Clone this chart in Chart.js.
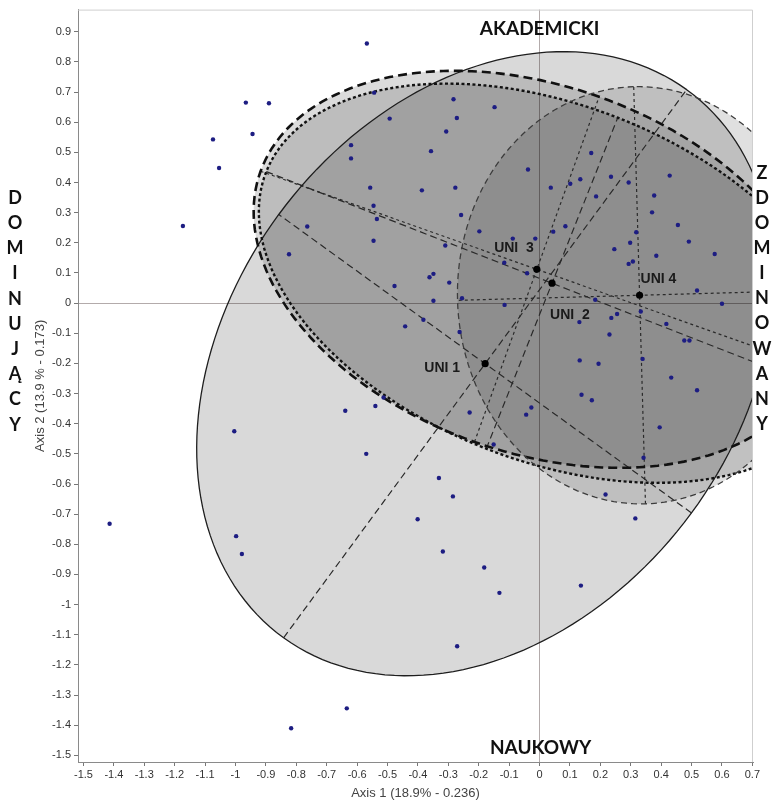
<!DOCTYPE html>
<html>
<head>
<meta charset="utf-8">
<script src="https://cdn.jsdelivr.net/npm/chart.js@4.4.1/dist/chart.umd.min.js"></script>
<style>
html, body { margin: 0; padding: 0; background: #fff; }
#wrap { width: 774px; height: 801px; position: relative; }
</style>
</head>
<body>
<div id="wrap"><canvas id="chart"></canvas></div>
<script>
// individual observations (axis 1, axis 2)
const POINTS_X = [
	-0.568, -0.544, -0.966, -0.890, -0.493, -1.074, -0.944, -1.054, -0.620, -0.620,
	-0.557, -0.546, -0.535, -0.546, -1.173, -0.764, -0.824, -0.477, -0.283, -0.148,
	-0.272, -0.307, -0.357, -0.038, 0.170, 0.428, -0.387, -0.277, 0.037, 0.101,
	0.134, 0.235, 0.293, 0.186, 0.377, 0.370, -0.258, -0.198, -0.310, -0.088,
	-0.014, 0.045, 0.085, 0.318, 0.298, 0.246, 0.455, 0.491, 0.576, 0.384,
	0.293, 0.307, -0.362, -0.349, -0.297, -0.116, -0.041, -0.349, -0.255, 0.518,
	0.183, -0.115, 0.600, 0.333, -0.442, -0.382, -0.263, 0.131, 0.236, 0.255,
	0.230, 0.417, 0.476, 0.493, 0.339, 0.132, 0.194, 0.433, 0.518, 0.138,
	0.172, -0.230, -0.027, -0.044, 0.395, -0.151, 0.342, -0.331, -0.285, 0.217,
	-0.401, 0.315, -0.639, -0.540, -0.513, -1.004, -0.570, -1.414, -0.998, -0.979,
	-0.634, -0.817, -0.318, -0.182, -0.132, 0.136, -0.271
];
const POINTS_Y = [
	0.861, 0.698, 0.665, 0.663, 0.612, 0.543, 0.561, 0.448, 0.524, 0.480,
	0.383, 0.323, 0.279, 0.207, 0.256, 0.254, 0.162, 0.057, 0.676, 0.650,
	0.614, 0.569, 0.504, 0.443, 0.498, 0.423, 0.374, 0.383, 0.383, 0.396,
	0.411, 0.419, 0.400, 0.354, 0.357, 0.301, 0.292, 0.238, 0.191, 0.214,
	0.214, 0.237, 0.255, 0.235, 0.200, 0.179, 0.259, 0.204, 0.163, 0.157,
	0.130, 0.138, 0.086, 0.097, 0.068, 0.134, 0.099, 0.008, 0.016, 0.042,
	0.011, -0.006, -0.002, -0.028, -0.077, -0.055, -0.096, -0.063, -0.049, -0.036,
	-0.104, -0.069, -0.124, -0.124, -0.185, -0.190, -0.201, -0.247, -0.289, -0.304,
	-0.322, -0.363, -0.346, -0.370, -0.412, -0.469, -0.513, -0.580, -0.641, -0.635,
	-0.717, -0.714, -0.357, -0.341, -0.313, -0.425, -0.500, -0.732, -0.773, -0.832,
	-1.344, -1.410, -0.824, -0.877, -0.961, -0.937, -1.138
];

// group centroids and confidence ellipses
const GROUP_LABELS = ["UNI 1", "UNI  2", "UNI  3", "UNI 4"];
const GROUP_X = [-0.179, 0.041, -0.009, 0.329];
const GROUP_Y = [-0.201, 0.066, 0.112, 0.026];
const SEMI_MAJOR = [1.125, 1.01, 0.965, 0.692];
const SEMI_MINOR = [0.84, 0.59, 0.608, 0.599];
const ANGLE_DEG = [53.9, -21.5, -19.7, 91.6];

const X_TICKS = [-1.5, -1.4, -1.3, -1.2, -1.1, -1, -0.9, -0.8, -0.7, -0.6, -0.5, -0.4, -0.3, -0.2, -0.1, 0, 0.1, 0.2, 0.3, 0.4, 0.5, 0.6, 0.7];
const Y_TICKS = [-1.5, -1.4, -1.3, -1.2, -1.1, -1, -0.9, -0.8, -0.7, -0.6, -0.5, -0.4, -0.3, -0.2, -0.1, 0, 0.1, 0.2, 0.3, 0.4, 0.5, 0.6, 0.7, 0.8, 0.9];

const X_TITLE = "Axis 1 (18.9% - 0.236)";
const Y_TITLE = "Axis 2 (13.9 % - 0.173)";
const TOP_LABEL = "AKADEMICKI";
const BOTTOM_LABEL = "NAUKOWY";
const LEFT_LABEL = "DOMINUJĄCY";
const RIGHT_LABEL = "ZDOMINOWANY";

const ELLIPSE_STYLE = [
	{ fill: "rgba(0,0,0,0.15)", stroke: "#1e1e1e", width: 1.3, dash: [], axisDash: [7, 4], axisWidth: 1.2 },
	{ fill: "rgba(0,0,0,0.14)", stroke: "#111", width: 2.4, dash: [3, 2.5], axisDash: [7, 4], axisWidth: 1.2 },
	{ fill: "rgba(0,0,0,0.14)", stroke: "#111", width: 2.6, dash: [9, 5], axisDash: [3, 3], axisWidth: 1.2 },
	{ fill: "rgba(0,0,0,0.12)", stroke: "#3c3c3c", width: 1.3, dash: [6, 4], axisDash: [3, 3], axisWidth: 1.2 },
];
const LABEL_POS = [
	{ dx: -25, dy: 4, align: "right" },
	{ dx: -2, dy: 32, align: "left" },
	{ dx: -3, dy: -21, align: "right" },
	{ dx: 1, dy: -16, align: "left" },
];

const fmt = (v) => String(Math.round(v * 10) / 10);

const toPx = (chart, x, y) => [
	chart.scales.x.getPixelForValue(x),
	chart.scales.y.getPixelForValue(y),
];

const ellipsePath = (chart, ctx, i) => {
	const t0 = (ANGLE_DEG[i] * Math.PI) / 180;
	const steps = 180;
	ctx.beginPath();
	for (let k = 0; k <= steps; k++) {
		const t = (k / steps) * 2 * Math.PI;
		const u = SEMI_MAJOR[i] * Math.cos(t);
		const v = SEMI_MINOR[i] * Math.sin(t);
		const [px, py] = toPx(
			chart,
			GROUP_X[i] + u * Math.cos(t0) - v * Math.sin(t0),
			GROUP_Y[i] + u * Math.sin(t0) + v * Math.cos(t0)
		);
		if (k === 0) ctx.moveTo(px, py);
		else ctx.lineTo(px, py);
	}
	ctx.closePath();
};

const axisLine = (chart, ctx, i, len, ang) => {
	const dx = len * Math.cos(ang);
	const dy = len * Math.sin(ang);
	const a = toPx(chart, GROUP_X[i] - dx, GROUP_Y[i] - dy);
	const b = toPx(chart, GROUP_X[i] + dx, GROUP_Y[i] + dy);
	ctx.beginPath();
	ctx.moveTo(a[0], a[1]);
	ctx.lineTo(b[0], b[1]);
	ctx.stroke();
};

const ellipsePlugin = {
	id: "ellipses",
	beforeDatasetsDraw(chart) {
		const { ctx, chartArea: ca } = chart;
		ctx.save();
		ctx.beginPath();
		ctx.rect(ca.left, ca.top, ca.right - ca.left, ca.bottom - ca.top);
		ctx.clip();

		GROUP_X.forEach((_, i) => {
			ellipsePath(chart, ctx, i);
			ctx.fillStyle = ELLIPSE_STYLE[i].fill;
			ctx.fill();
		});

		GROUP_X.forEach((_, i) => {
			const st = ELLIPSE_STYLE[i];
			const t0 = (ANGLE_DEG[i] * Math.PI) / 180;
			ctx.strokeStyle = "#2a2a2a";
			ctx.lineWidth = st.axisWidth;
			ctx.setLineDash(st.axisDash);
			axisLine(chart, ctx, i, SEMI_MAJOR[i], t0);
			axisLine(chart, ctx, i, SEMI_MINOR[i], t0 + Math.PI / 2);
		});

		GROUP_X.forEach((_, i) => {
			const st = ELLIPSE_STYLE[i];
			ellipsePath(chart, ctx, i);
			ctx.strokeStyle = st.stroke;
			ctx.lineWidth = st.width;
			ctx.setLineDash(st.dash);
			ctx.stroke();
		});
		ctx.restore();
	},
	afterDatasetsDraw(chart) {
		const { ctx, chartArea: ca } = chart;
		ctx.save();

		// centroid labels
		ctx.font = "bold 14px 'Liberation Sans', Arial, sans-serif";
		ctx.fillStyle = "#1a1a1a";
		ctx.textBaseline = "middle";
		GROUP_LABELS.forEach((label, i) => {
			const [px, py] = toPx(chart, GROUP_X[i], GROUP_Y[i]);
			ctx.textAlign = LABEL_POS[i].align;
			ctx.fillText(label, px + LABEL_POS[i].dx, py + LABEL_POS[i].dy);
		});

		// frame on top and right
		ctx.strokeStyle = "#cfcfcf";
		ctx.lineWidth = 1;
		ctx.beginPath();
		ctx.moveTo(ca.left, ca.top + 0.5);
		ctx.lineTo(ca.right - 0.5, ca.top + 0.5);
		ctx.lineTo(ca.right - 0.5, ca.bottom);
		ctx.stroke();

		// pole names
		const x0 = chart.scales.x.getPixelForValue(0);
		ctx.fillStyle = "#111";
		ctx.textAlign = "center";
		ctx.font = "bold 19px Lato, 'Open Sans', sans-serif";
		ctx.fillText(TOP_LABEL, x0, ca.top + 19);
		ctx.fillText(BOTTOM_LABEL, x0 + 1, ca.bottom - 14);

		ctx.font = "bold 18px Lato, 'Open Sans', sans-serif";
		[...LEFT_LABEL].forEach((ch, k) => {
			ctx.fillText(ch, ca.left - 63, 198 + k * 25.2);
		});
		[...RIGHT_LABEL].forEach((ch, k) => {
			ctx.fillText(ch, ca.right + 9, 173 + k * 25.1);
		});
		ctx.restore();
	},
};

Chart.defaults.font.family = "'Liberation Sans', Arial, sans-serif";
Chart.defaults.color = "#333";

const zeroGrid = (c) => (c.tick && c.tick.value === 0 ? "#b3abab" : "rgba(0,0,0,0)");

new Chart(document.getElementById("chart").getContext("2d"), {
	type: "scatter",
	data: {
		datasets: [
			{
				label: "obs",
				data: POINTS_X.map((x, i) => ({ x: x, y: POINTS_Y[i] })),
				backgroundColor: "#1d1d82",
				borderColor: "#1d1d82",
				borderWidth: 0,
				pointRadius: 2.2,
			},
			{
				label: "centroids",
				data: GROUP_X.map((x, i) => ({ x: x, y: GROUP_Y[i] })),
				backgroundColor: "#000",
				borderColor: "#000",
				borderWidth: 0,
				pointRadius: 3.6,
			},
		],
	},
	options: {
		responsive: true,
		maintainAspectRatio: false,
		animation: false,
		layout: { padding: { left: 30, top: 5, right: 21, bottom: 0 } },
		plugins: { legend: { display: false }, tooltip: { enabled: false } },
		scales: {
			x: {
				type: "linear",
				min: -1.518,
				max: 0.702,
				afterBuildTicks: (s) => { s.ticks = X_TICKS.map((v) => ({ value: v })); },
				afterFit: (s) => { s.height = 39; },
				ticks: { callback: fmt, font: { size: 11 }, color: "#333", padding: 2, maxRotation: 0, autoSkip: false },
				grid: { color: zeroGrid, tickColor: "#777", tickLength: 4, lineWidth: 1 },
				border: { display: true, color: "#8a8a8a" },
				title: { display: true, text: X_TITLE, font: { size: 13 }, color: "#444", padding: { top: 0, bottom: 0 } },
			},
			y: {
				type: "linear",
				min: -1.522,
				max: 0.9735,
				afterBuildTicks: (s) => { s.ticks = Y_TICKS.map((v) => ({ value: v })); },
				afterFit: (s) => { s.width = 48; },
				ticks: { callback: fmt, font: { size: 11 }, color: "#333", padding: 3, autoSkip: false },
				grid: { color: zeroGrid, tickColor: "#777", tickLength: 4, lineWidth: 1 },
				border: { display: true, color: "#8a8a8a" },
				title: { display: true, text: Y_TITLE, font: { size: 13 }, color: "#444", padding: { top: 3, bottom: 0 } },
			},
		},
	},
	plugins: [ellipsePlugin],
});
</script>
</body>
</html>
